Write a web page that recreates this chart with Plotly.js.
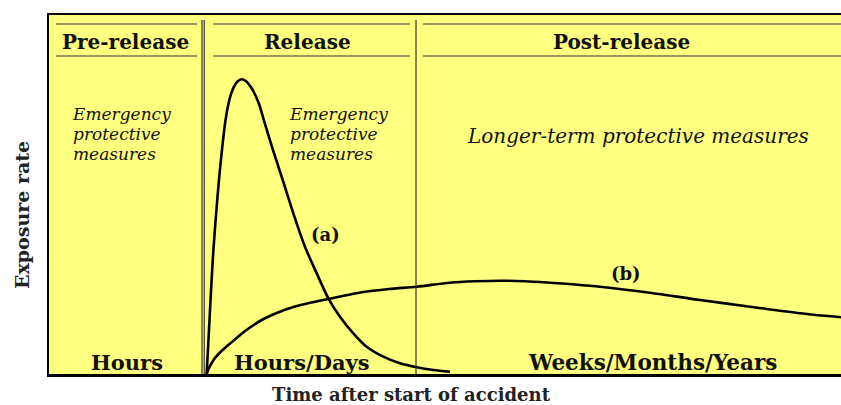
<!DOCTYPE html>
<html>
<head>
<meta charset="utf-8">
<script src="https://cdn.plot.ly/plotly-3.0.1.min.js"></script>
<style>html,body{margin:0;padding:0;background:#fff;}#chart{width:841px;height:405px;}</style>
</head>
<body>
<div id="chart"></div>
<script>
// Curve (a): short-duration release exposure rate
const timeA = [19.91, 20.20, 20.45, 20.74, 21.09, 21.46, 21.84, 22.22, 22.60, 22.98, 23.36, 23.80, 24.31, 24.96, 25.59, 26.01, 26.52, 27.27, 28.16, 29.51, 30.85, 32.32, 33.80, 35.27, 36.74, 38.42, 40.11, 42.21, 44.32, 46.43, 48.52, 50.63];
const rateA = [0.00, 12.26, 22.84, 33.98, 44.29, 54.04, 62.40, 69.64, 74.65, 78.00, 80.08, 81.48, 82.09, 81.42, 79.58, 77.86, 75.21, 69.64, 63.23, 54.04, 44.76, 35.46, 28.05, 21.09, 15.96, 11.34, 7.60, 4.82, 2.98, 1.87, 1.11, 0.64];
// Curve (b): prolonged exposure rate
const timeB = [19.91, 20.20, 20.58, 20.96, 21.59, 22.64, 23.61, 24.75, 26.86, 28.91, 31.06, 33.08, 35.27, 37.37, 39.48, 42.93, 46.43, 50.63, 53.79, 56.94, 60.10, 63.26, 66.41, 69.57, 75.88, 82.20, 88.51, 94.82, 100];
const rateB = [0.00, 1.67, 3.20, 4.46, 5.99, 8.08, 9.89, 11.98, 15.04, 17.13, 18.80, 19.92, 20.89, 21.87, 22.76, 23.68, 24.32, 25.43, 25.82, 25.99, 25.85, 25.43, 24.93, 24.32, 22.65, 20.61, 18.75, 16.91, 15.79];
// Phase boundaries (time units)
const phaseBounds = [19.32, 19.6, 46.34];
// Text labels
const phaseNames = ["Pre-release", "Release", "Post-release"];
const durationLabels = ["Hours", "Hours/Days", "Weeks/Months/Years"];
const measureLines = ["Emergency", "protective", "measures"];
const longTermLabel = "Longer-term protective measures";
const curveLabels = ["(a)", "(b)"];
const xTitle = "Time after start of accident";
const yTitle = "Exposure rate";

const W = 841, H = 405, L = 49, R = 0, T = 15, B = 31;
const pw = W - L - R, ph = H - T - B;
const px2x = p => (p - L) / pw * 100;
const py2p = p => (H - B - p) / ph;

const serif = "DejaVu Serif";
const ink = "#111";

const traces = [
  {x: timeA, y: rateA, mode: "lines", line: {color: "#000", width: 2.6, shape: "spline", smoothing: 0.8}, hoverinfo: "skip"},
  {x: timeB, y: rateB, mode: "lines", line: {color: "#000", width: 2.6, shape: "spline", smoothing: 0.8}, hoverinfo: "skip"}
];

const shapes = [];
phaseBounds.forEach(b => shapes.push({type: "line", xref: "x", yref: "paper", x0: b, x1: b, y0: 0, y1: py2p(20), line: {color: "#333", width: 1.2}}));
[[56, 197], [213, 410], [423, 841]].forEach(seg => {
  [24, 56].forEach(yy => shapes.push({type: "line", xref: "x", yref: "paper", x0: px2x(seg[0]), x1: px2x(seg[1]), y0: py2p(yy), y1: py2p(yy), line: {color: "#333", width: 1.2}}));
});

const ann = [];
const headX = [125.5, 307, 621];
phaseNames.forEach((t, i) => ann.push({text: t, x: px2x(headX[i]), y: py2p(42), xref: "x", yref: "paper", showarrow: false, xanchor: "center", yanchor: "middle", font: {family: serif, size: 20, weight: 700, color: ink}}));
const durX = [127, 302, 652];
const durSize = [21, 21, 21.5];
durationLabels.forEach((t, i) => ann.push({text: t, x: px2x(durX[i]), y: py2p(362), xref: "x", yref: "paper", showarrow: false, xanchor: "center", yanchor: "middle", font: {family: serif, size: durSize[i], weight: 700, color: ink}}));
const measX = [70, 287];
const measText = measureLines.map(t => '<span style="font-size:17px">' + t + '</span>').join("<br>");
measX.forEach(mx => ann.push({text: measText, x: px2x(mx), y: py2p(134), xref: "x", yref: "paper", showarrow: false, xanchor: "left", yanchor: "middle", align: "left", font: {family: serif, size: 15.3, style: "italic", color: ink}}));
ann.push({text: longTermLabel, x: px2x(638), y: py2p(136), xref: "x", yref: "paper", showarrow: false, xanchor: "center", yanchor: "middle", font: {family: serif, size: 20, style: "italic", color: ink}});
const curveLabX = [325, 626], curveLabY = [234, 273];
curveLabels.forEach((t, i) => ann.push({text: t, x: px2x(curveLabX[i]), y: py2p(curveLabY[i]), xref: "x", yref: "paper", showarrow: false, xanchor: "center", yanchor: "middle", font: {family: serif, size: 18, weight: 700, color: ink}}));
ann.push({text: xTitle, x: px2x(411), y: py2p(394), xref: "x", yref: "paper", showarrow: false, xanchor: "center", yanchor: "middle", font: {family: serif, size: 18, weight: 700, color: "#222"}});
ann.push({text: yTitle, x: (22 - L) / pw, y: py2p(215), xref: "paper", yref: "paper", showarrow: false, textangle: -90, xanchor: "center", yanchor: "middle", font: {family: serif, size: 19, weight: 700, color: "#222"}});

const layout = {
  width: W, height: H,
  margin: {l: L, r: R, t: T, b: B},
  paper_bgcolor: "#ffffff",
  plot_bgcolor: "#ffff80",
  showlegend: false,
  xaxis: {range: [0, 100], showgrid: false, zeroline: false, showticklabels: false, ticks: "", showline: true, linecolor: "#000", linewidth: 2.5, mirror: true, fixedrange: true},
  yaxis: {range: [0, 100], showgrid: false, zeroline: false, showticklabels: false, ticks: "", showline: true, linecolor: "#000", linewidth: 2.5, mirror: false, fixedrange: true},
  shapes: shapes,
  annotations: ann
};
Plotly.newPlot("chart", traces, layout, {displayModeBar: false, staticPlot: true});
</script>
</body>
</html>
